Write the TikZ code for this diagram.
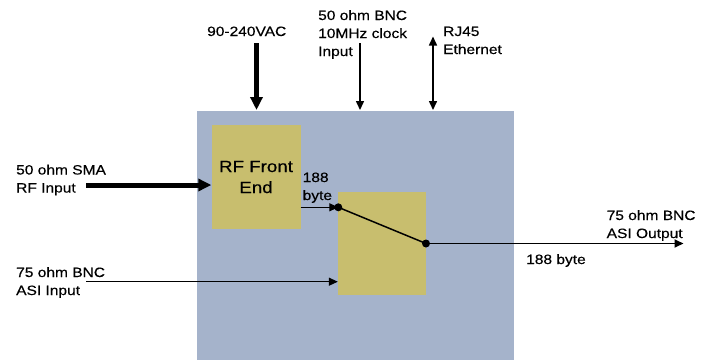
\documentclass[tikz,border=0pt]{standalone}
\usepackage{fontspec}
\setmainfont{Liberation Sans}[FakeStretch=1.15,FakeBold=0.4]
\usetikzlibrary{arrows.meta}
\definecolor{bluebg}{HTML}{A5B3CB}
\definecolor{olive}{HTML}{C8BE6E}
\begin{document}
\begin{tikzpicture}[x=1pt,y=-1pt,
  lbl/.style={inner sep=0pt,anchor=base west,align=left,font=\fontsize{13.5}{18}\selectfont},
  blk/.style={fill=olive,draw=none,inner sep=0pt},
  thin/.style={line width=1.5pt,-{Triangle[length=9pt,width=8pt]}},
  thick/.style={line width=5pt,-{Triangle[length=13pt,width=12pt]}},
  dot/.style={circle,fill=black,inner sep=0pt,minimum size=8pt}]
\useasboundingbox (0,0) rectangle (710,360);
\fill[bluebg] (197,111) rectangle (514,360);
\node[blk,minimum width=89pt,minimum height=104pt,align=center,font=\fontsize{16.3}{21}\selectfont] (rf) at (256,177) {RF Front\\End};
\node[blk,minimum width=88pt,minimum height=103pt] (sw) at (382,243.5) {};
% top labels (base = last line)
\node[lbl] (ac) at (207,36) {90-240VAC};
\node[lbl] (clk) at (318,56) {50 ohm BNC\\10MHz clock\\Input};
\node[lbl] (rj) at (443,54) {RJ45\\Ethernet};
\coordinate (acs) at (256.5,43);
\coordinate (clks) at (360,43);
\coordinate (rjs) at (433,36.5);
\coordinate (act) at (256.5,110);
\coordinate (clkt) at (360,110);
\coordinate (rjt) at (433,110);
\draw[thick] (acs) -- (act);
\draw[thin] (clks) -- (clkt);
\draw[line width=1.5pt,{Triangle[length=9pt,width=8pt]}-{Triangle[length=9pt,width=8pt]}] (rjs) -- (rjt);
% left labels
\node[lbl] (sma) at (16,192.5) {50 ohm SMA\\RF Input};
\node[lbl] (asi) at (16,295) {75 ohm BNC\\ASI Input};
\coordinate (smas) at (86,185);
\coordinate (asis) at (86,281.7);
\draw[thick] (smas) -- (rf.west |- smas);
\draw[thin,line width=1.2pt] (asis) -- (sw.west |- asis);
% switch
\node[dot] (d1) at (338.3,207.3) {};
\node[dot] (d2) at (426,243.5) {};
\draw[thin,line width=1.2pt] (rf.east |- d1) -- (d1.center);
\draw[line width=1.5pt] (d1.center) -- (d2.center);
\coordinate (out) at (683.5,243.5);
\draw[thin,line width=1.8pt] (d2.center) -- (out);
\node[lbl] (b1) at (302.5,200) {188\\byte};
\node[lbl] (b2) at (526,264) {188 byte};
\node[lbl] (ao) at (606.5,238) {75 ohm BNC\\ASI Output};
\end{tikzpicture}
\end{document}
